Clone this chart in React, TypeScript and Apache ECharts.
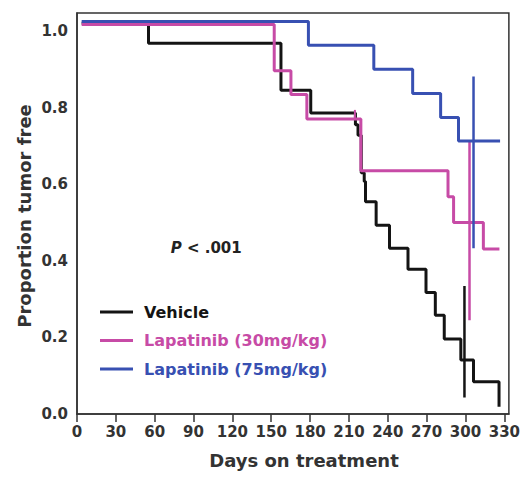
import React, { useEffect, useRef } from "react";
import * as echarts from "echarts";

const FONT = "'DejaVu Sans', 'Liberation Sans', Arial, sans-serif";

const xTicks = [0, 30, 60, 90, 120, 150, 180, 210, 240, 270, 300, 330];
const yTicks = [0, 0.2, 0.4, 0.6, 0.8, 1.0];

const seriesNames = ["Vehicle", "Lapatinib (30mg/kg)", "Lapatinib (75mg/kg)"];
const seriesColors = ["#141414", "#c74ba6", "#3850b2"];

// Kaplan-Meier steps: [day, proportion after the drop]
const vehicle: [number, number][] = [
  [3.6, 1.02], [55.2, 0.968], [157.5, 0.845], [180.5, 0.786], [215.0, 0.755],
  [217.0, 0.728], [219.5, 0.63], [221.8, 0.607], [222.8, 0.554], [231.0, 0.493],
  [241.3, 0.433], [255.6, 0.378], [269.5, 0.317], [276.7, 0.258], [283.6, 0.196],
  [296.4, 0.141], [306.2, 0.084], [325.9, 0.019],
];
const lap30: [number, number][] = [
  [3.6, 1.017], [152.3, 0.896], [165.2, 0.834], [177.5, 0.77], [219.2, 0.635],
  [286.5, 0.567], [290.8, 0.5], [313.8, 0.431], [326.2, 0.431],
];
const lap75: [number, number][] = [
  [3.6, 1.025], [178.7, 0.963], [229.2, 0.9], [259.2, 0.837], [280.8, 0.774],
  [294.6, 0.713], [326.7, 0.713],
];

// vertical marks: [day, top, bottom]
const vehicleMark: [number, number, number] = [299.2, 0.334, 0.043];
const lap30Mark: [number, number, number] = [303.1, 0.711, 0.245];
const lap30Tick: [number, number, number] = [214.6, 0.794, 0.77];
const lap75Mark: [number, number, number] = [306.2, 0.881, 0.433];

const pText = "{i|P} < .001";

function markSeries(name: string, m: [number, number, number], color: string, width: number) {
  return {
    name,
    type: "line",
    data: [[m[0], m[1]], [m[0], m[2]]],
    symbol: "none",
    lineStyle: { color, width },
    itemStyle: { color },
    silent: true,
    z: 3,
  };
}

export default function App() {
  const ref = useRef<HTMLDivElement>(null);
  useEffect(() => {
    if (!ref.current) return;
    const chart = echarts.init(ref.current, null, { renderer: "svg" });
    const labelStyle = { color: "#333", fontFamily: FONT, fontWeight: "bold" as const, fontSize: 15 };
    chart.setOption({
      animation: false,
      grid: {
        left: 77, right: 12.3, top: 13, bottom: 68,
        show: true, borderColor: "#333", borderWidth: 1.5, backgroundColor: "transparent",
      },
      xAxis: {
        type: "value", min: 0, max: 333.5, interval: 30,
        axisLine: { show: true, lineStyle: { color: "#333", width: 1.5 } },
        axisTick: { show: true, length: 8, lineStyle: { color: "#333", width: 1.5 }, customValues: xTicks },
        axisLabel: { ...labelStyle, margin: 10, customValues: xTicks, formatter: (v: number) => String(v) },
        splitLine: { show: false },
      },
      yAxis: {
        type: "value", min: 0, max: 1.047, interval: 0.2,
        axisLine: { show: true, lineStyle: { color: "#333", width: 1.5 } },
        axisTick: { show: false },
        axisLabel: { ...labelStyle, margin: 9, customValues: yTicks, formatter: (v: number) => v.toFixed(1) },
        splitLine: { show: false },
      },
      legend: {
        data: seriesNames.map((n, i) => ({ name: n, textStyle: { color: seriesColors[i] } })),
        orient: "vertical",
        left: 95, top: 299,
        itemWidth: 33, itemHeight: 16, itemGap: 12.5,
        icon: "path://M0,7 L33,7 L33,10 L0,10 Z",
        textStyle: { fontFamily: FONT, fontWeight: "bold", fontSize: 16, lineHeight: 16, padding: [0, 0, 0, 6] },
        selectedMode: false,
      },
      graphic: [
        {
          type: "text", left: 170.7, top: 240,
          style: {
            text: pText, fill: "#222", font: `bold 15px ${FONT}`,
            rich: { i: { fontStyle: "italic", fontWeight: "bold", fontSize: 15, fontFamily: FONT, fill: "#222" } },
          },
        },
        {
          type: "text", x: 304, y: 460,
          style: { text: "Days on treatment", fill: "#333", font: `bold 18px ${FONT}`, align: "center", verticalAlign: "middle" },
        },
        {
          type: "text", x: 24, y: 216, rotation: Math.PI / 2,
          style: { text: "Proportion tumor free", fill: "#333", font: `bold 18px ${FONT}`, align: "center", verticalAlign: "middle" },
        },
      ],
      series: [
        { name: seriesNames[0], type: "line", step: "end", data: vehicle, symbol: "none",
          lineStyle: { color: seriesColors[0], width: 3 }, itemStyle: { color: seriesColors[0] }, z: 2 },
        markSeries("v-vehicle", vehicleMark, seriesColors[0], 2.5),
        { name: seriesNames[1], type: "line", step: "end", data: lap30, symbol: "none",
          lineStyle: { color: seriesColors[1], width: 3 }, itemStyle: { color: seriesColors[1] }, z: 3 },
        markSeries("v-lap30", lap30Mark, seriesColors[1], 2.5),
        markSeries("t-lap30", lap30Tick, seriesColors[1], 2),
        { name: seriesNames[2], type: "line", step: "end", data: lap75, symbol: "none",
          lineStyle: { color: seriesColors[2], width: 3 }, itemStyle: { color: seriesColors[2] }, z: 4 },
        markSeries("v-lap75", lap75Mark, seriesColors[2], 2.5),
      ],
    });
    return () => chart.dispose();
  }, []);
  return <div ref={ref} style={{ position: "absolute", left: 0, top: 0, width: 523, height: 482 }} />;
}
